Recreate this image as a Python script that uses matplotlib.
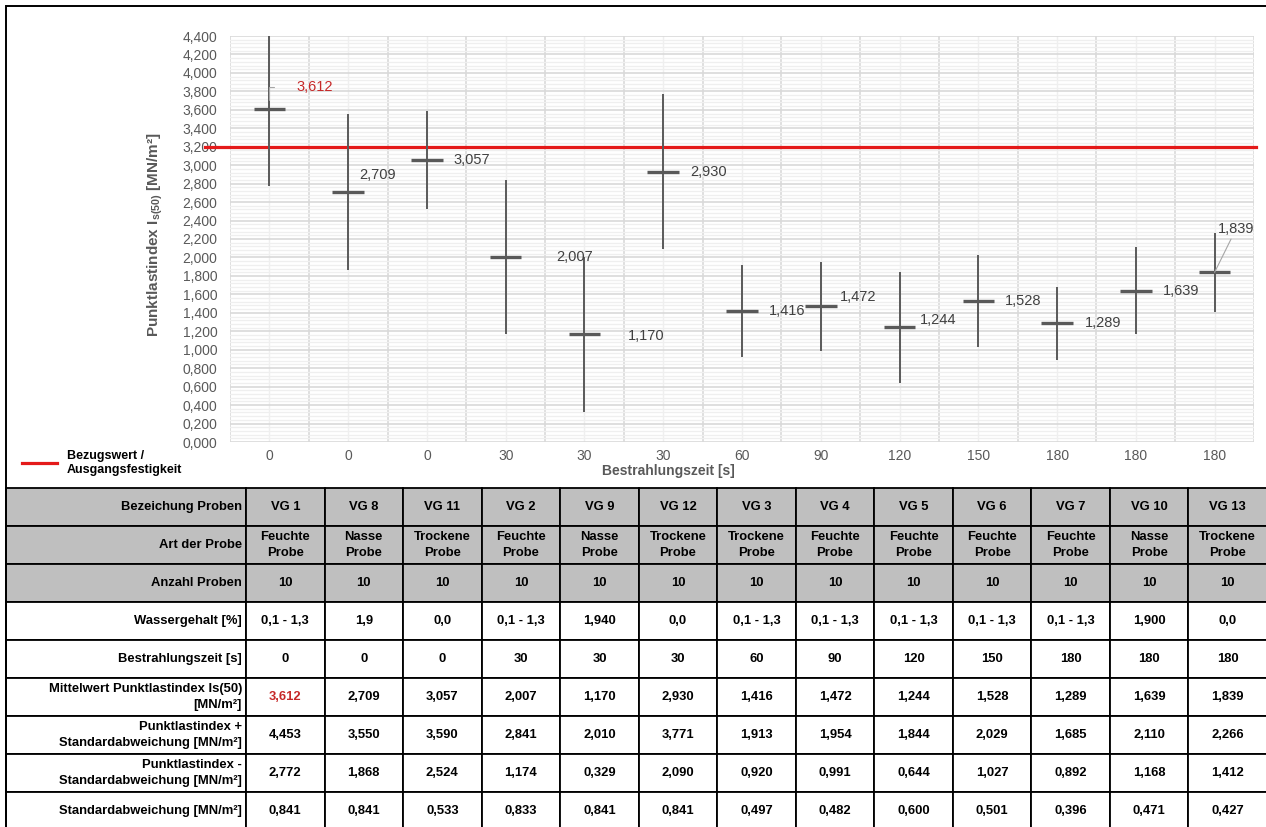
import numpy as np
import matplotlib
matplotlib.use("Agg")
import matplotlib.pyplot as plt
from matplotlib.lines import Line2D
from matplotlib.patches import Rectangle
from matplotlib.ticker import MultipleLocator

plt.rcParams['font.family'] = ['Liberation Sans', 'DejaVu Sans']
plt.rcParams['mathtext.fontset'] = 'custom'
plt.rcParams['mathtext.rm'] = 'Liberation Sans'
plt.rcParams['mathtext.bf'] = 'Liberation Sans:bold'

# sample groups, in plotting order
samples = ["VG 1", "VG 8", "VG 11", "VG 2", "VG 9", "VG 12", "VG 3",
           "VG 4", "VG 5", "VG 6", "VG 7", "VG 10", "VG 13"]
sample_type = ["Feuchte", "Nasse", "Trockene", "Feuchte", "Nasse", "Trockene",
               "Trockene", "Feuchte", "Feuchte", "Feuchte", "Feuchte", "Nasse",
               "Trockene"]
n_samples = [10, 10, 10, 10, 10, 10, 10, 10, 10, 10, 10, 10, 10]
water = ["0,1 - 1,3", "1,9", "0,0", "0,1 - 1,3", "1,940", "0,0", "0,1 - 1,3",
         "0,1 - 1,3", "0,1 - 1,3", "0,1 - 1,3", "0,1 - 1,3", "1,900", "0,0"]
exposure = [0, 0, 0, 30, 30, 30, 60, 90, 120, 150, 180, 180, 180]
mean_is50 = [3.612, 2.709, 3.057, 2.007, 1.170, 2.930, 1.416, 1.472, 1.244,
             1.528, 1.289, 1.639, 1.839]
plus_std = [4.453, 3.550, 3.590, 2.841, 2.010, 3.771, 1.913, 1.954, 1.844,
            2.029, 1.685, 2.110, 2.266]
minus_std = [2.772, 1.868, 2.524, 1.174, 0.329, 2.090, 0.920, 0.991, 0.644,
             1.027, 0.892, 1.168, 1.412]
std_dev = [0.841, 0.841, 0.533, 0.833, 0.841, 0.841, 0.497, 0.482, 0.600,
           0.501, 0.396, 0.471, 0.427]
reference_value = 3.2

# label offsets in pixels (right, up) from each mean
label_dx = [27, 11, 27, 51, 43, 27, 27, 19, 20, 27, 28, 27, 3]
label_dy = [22, 17, 0, 0, -2, 0, 0, 9, 7, 0, 0, 0, 43]


def de(v, nd=3):
    return f"{v:.{nd}f}".replace(".", ",")


W, H = 1266, 827
fig = plt.figure(figsize=(W / 100, H / 100), dpi=100)

# outer frame
fig.patches.append(Rectangle((6 / W, -0.05), 1.2, 1.05 - 6 / H, transform=fig.transFigure,
                             fill=False, edgecolor='black', linewidth=1.4))

ax = fig.add_axes([230 / W, 1 - 442 / H, 1024 / W, 406 / H])
x = np.arange(len(samples))

grey = '#595959'
ax.set_xlim(-0.5, len(samples) - 0.5)
ax.set_ylim(0, 4.4)
ax.yaxis.set_major_locator(MultipleLocator(0.2))
ax.yaxis.set_minor_locator(MultipleLocator(0.04))
ax.set_xticks(x)
ax.set_xticklabels([str(t) for t in exposure])
ax.set_yticks(np.arange(0, 4.41, 0.2))
ax.set_yticklabels([de(v) for v in np.arange(0, 4.41, 0.2)])
ax.tick_params(axis='both', which='both', length=0, colors=grey, labelsize=10)
ax.tick_params(axis='y', pad=9)
ax.tick_params(axis='x', pad=5)
for s in ax.spines.values():
    s.set_visible(False)

# grid: category boundaries strong, category centres faint
for b in np.arange(-0.5, len(samples), 1.0):
    ax.axvline(b, color='#d9d9d9', linewidth=1.2, zorder=0)
for c in x:
    ax.axvline(c, color='#efefef', linewidth=1.0, zorder=0)
ax.grid(which='major', axis='y', color='#d9d9d9', linewidth=1.2, zorder=0)
ax.grid(which='minor', axis='y', color='#efefef', linewidth=0.9, zorder=0)
ax.set_axisbelow(True)

# reference strength
ax.axhline(reference_value, xmin=-0.024, xmax=1.002, color='#e41a1a',
           linewidth=2.3, clip_on=False, zorder=3)

# mean +/- standard deviation
ax.vlines(x, minus_std, plus_std, color=grey, linewidth=1.4, zorder=4)
ax.hlines(mean_is50, x - 0.2, x + 0.2, color=grey, linewidth=2.4, zorder=4)

for i, m in enumerate(mean_is50):
    col = '#c62828' if i == 0 else '#404040'
    kw = {}
    if i == 0:
        kw['arrowprops'] = dict(arrowstyle='-', color='#a6a6a6', linewidth=0.8,
                                connectionstyle='angle,angleA=0,angleB=90,rad=0',
                                relpos=(0, 0.5), shrinkA=14, shrinkB=6)
    elif i == len(mean_is50) - 1:
        kw['arrowprops'] = dict(arrowstyle='-', color='#a6a6a6', linewidth=0.8,
                                shrinkA=0, shrinkB=0)
    ax.annotate(de(m), xy=(i, m), xytext=(label_dx[i], label_dy[i]),
                textcoords='offset pixels', ha='left', va='center',
                fontsize=10.5, color=col, zorder=5, **kw)

fig.text(155 / W, 1 - 235 / H, r"Punktlastindex I$_{\mathbf{s(50)}}$ [MN/m²]",
         rotation=90, ha='center', va='center', fontsize=11, fontweight='bold',
         color=grey)
fig.text(668 / W, 1 - 471 / H, "Bestrahlungszeit [s]", ha='center', va='center',
         fontsize=10, fontweight='bold', color=grey)

ref_handle = Line2D([], [], color='#e41a1a', linewidth=2.3)
fig.legend([ref_handle], ["Bezugswert /\nAusgangsfestigkeit"], loc='center left',
           bbox_to_anchor=(22 / W, 1 - 463 / H), frameon=False, handlelength=2.8,
           handletextpad=0.8, borderpad=0, borderaxespad=0,
           prop={'weight': 'bold', 'size': 9})

# data table below the chart
row_labels = ["Bezeichung Proben", "Art der Probe", "Anzahl Proben",
              "Wassergehalt [%]", "Bestrahlungszeit [s]",
              "Mittelwert Punktlastindex Is(50)\n[MN/m²]",
              "Punktlastindex +\nStandardabweichung [MN/m²]",
              "Punktlastindex -\nStandardabweichung [MN/m²]",
              "Standardabweichung [MN/m²]"]
rows = [
    samples,
    [f"{t}\nProbe" for t in sample_type],
    [str(n) for n in n_samples],
    water,
    [str(t) for t in exposure],
    [de(v) for v in mean_is50],
    [de(v) for v in plus_std],
    [de(v) for v in minus_std],
    [de(v) for v in std_dev],
]
cell_text = [[lab] + r for lab, r in zip(row_labels, rows)]

tax = fig.add_axes([6 / W, 1 - 830 / H, 1261 / W, 342 / H])
tax.axis('off')
first_w = 240 / 1261
col_w = (1 - first_w) / len(samples)
tbl = tax.table(cellText=cell_text, cellLoc='center', bbox=[0, 0, 1, 1],
                colWidths=[first_w] + [col_w] * len(samples))
tbl.auto_set_font_size(False)
tbl.set_fontsize(9.4)
for (r, c), cell in tbl.get_celld().items():
    cell.set_edgecolor('black')
    cell.set_linewidth(1.3)
    cell.set_facecolor('#bfbfbf' if r < 3 else 'white')
    txt = cell.get_text()
    txt.set_fontweight('bold')
    txt.set_linespacing(1.35)
    txt.set_color('black')
    if c == 0:
        cell.PAD = 4 / 240
        cell.set_text_props(ha='right')
        cell._loc = 'right'
    if r == 5 and c == 1:
        txt.set_color('#c62828')

fig.savefig("out.png", dpi=100)
